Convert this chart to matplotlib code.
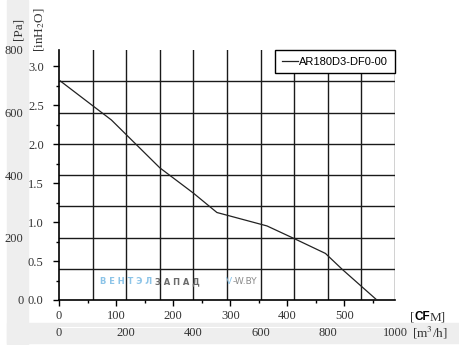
import matplotlib
matplotlib.use("Agg")
import matplotlib.pyplot as plt
from matplotlib.patches import Rectangle
from matplotlib.ticker import MultipleLocator

# fan curve: airflow in m3/h, static pressure in Pa
flow_m3h = [0, 156, 300, 400, 470, 619, 703, 793, 843, 946]
press_pa = [704, 576, 423, 342, 280, 237, 195, 149, 98, 0]
model = "AR180D3-DF0-00"

cfm_ticks = [0, 100, 200, 300, 400, 500]
m3h_ticks = [0, 200, 400, 600, 800, 1000]
pa_ticks = [0, 200, 400, 600, 800]
inh2o_ticks = [0.0, 0.5, 1.0, 1.5, 2.0, 2.5, 3.0]

M3H_PER_CFM = 1.699
PA_PER_INH2O = 249.09

plt.rcParams['mathtext.fontset'] = 'stix'
serif = 'Liberation Serif'
txt_col = '#333333'
fs = 9

W, H = 459, 345
fig = plt.figure(figsize=(W / 100, H / 100), dpi=100)

# gray bands behind the outer labels
fig.patches.append(Rectangle((7 / W, 0), 21 / W, 1, transform=fig.transFigure,
                             color='#eeeeee', zorder=-10))
fig.patches.append(Rectangle((7 / W, 2 / H), 1, 20 / H, transform=fig.transFigure,
                             color='#eeeeee', zorder=-10))

ax = fig.add_axes([59 / W, 45 / H, 336 / W, 250 / H])
ax.set_xlim(0, 1000)
ax.set_ylim(0, 800)
ax.set_facecolor('white')

for v in range(100, 1001, 100):
    ax.axvline(v, color='#1a1a1a', lw=1.0, zorder=1)
for h in range(100, 800, 100):
    ax.axhline(h, color='#1a1a1a', lw=1.0, zorder=1)

ax.plot(flow_m3h, press_pa, color='#222222', lw=0.9, label=model, zorder=3)

ax.spines['top'].set_visible(False)
ax.spines['right'].set_visible(False)
ax.spines['left'].set_linewidth(1.2)
ax.spines['bottom'].set_linewidth(1.2)
ax.set_xticks([])
ax.set_yticks([])

leg = ax.legend(loc='upper right', bbox_to_anchor=(1, 1), borderaxespad=0,
                fancybox=False, framealpha=1, edgecolor='black',
                prop={'family': 'Liberation Sans', 'size': 8},
                handlelength=1.5, handletextpad=0.1, borderpad=0.6)
leg.get_frame().set_linewidth(1.0)
leg.set_zorder(5)

# inH2O axis on the spine
ay = ax.secondary_yaxis('left', functions=(lambda p: p / PA_PER_INH2O,
                                           lambda i: i * PA_PER_INH2O))
ay.set_yticks(inh2o_ticks)
ay.yaxis.set_minor_locator(MultipleLocator(0.25))
ay.set_yticklabels([f"{t:.1f}" for t in inh2o_ticks], family=serif,
                   fontsize=fs, color=txt_col)
ay.tick_params(which='major', length=4, width=1, pad=7)
ay.tick_params(which='minor', length=2, width=1)
ay.spines['left'].set_visible(False)

# Pa labels further out
ap = ax.secondary_yaxis(-0.106)
ap.set_yticks(pa_ticks)
ap.set_yticklabels([str(t) for t in pa_ticks], family=serif,
                   fontsize=fs, color=txt_col)
ap.tick_params(length=0, pad=0)
ap.spines['left'].set_visible(False)

# CFM axis on the spine
ac = ax.secondary_xaxis('bottom', functions=(lambda m: m / M3H_PER_CFM,
                                             lambda c: c * M3H_PER_CFM))
ac.set_xticks(cfm_ticks)
ac.xaxis.set_minor_locator(MultipleLocator(50))
ac.set_xticklabels([str(t) for t in cfm_ticks], family=serif,
                   fontsize=fs, color=txt_col)
ac.tick_params(which='major', length=4.5, width=1, pad=3)
ac.tick_params(which='minor', length=2.5, width=1)
ac.spines['bottom'].set_visible(False)

# m3/h labels further down
am = ax.secondary_xaxis(-0.11)
am.set_xticks(m3h_ticks)
am.set_xticklabels([str(t) for t in m3h_ticks], family=serif,
                   fontsize=fs, color=txt_col)
am.tick_params(length=0, pad=0)
am.spines['bottom'].set_visible(False)

# unit labels
fig.text(18 / W, 1 - 29 / H, "[Pa]", rotation=90, ha='center', va='center',
         family=serif, fontsize=9.5, color=txt_col)
fig.text(40 / W, 1 - 30 / H, "[inH$_2$O]", rotation=90, ha='center', va='center',
         family=serif, fontsize=9.5, color=txt_col)

t1 = fig.text(410 / W, 1 - 320 / H, "[", family=serif, fontsize=9.5,
              color=txt_col, va='baseline')
t2 = ax.annotate("CF", xy=(1, 0), xycoords=t1, va='bottom',
                 family='Liberation Sans', weight='bold', fontsize=8.5,
                 color='black', annotation_clip=False)
ax.annotate("M]", xy=(1, 0), xycoords=t2, va='bottom', family=serif,
            fontsize=9.5, color=txt_col, annotation_clip=False)
fig.text(412 / W, 1 - 333 / H, "[m$^3$/h]", family=serif, fontsize=9.5,
         color=txt_col, va='center')

# watermark
wm_y = 0.072
tw = ax.text(0.122, wm_y, "В Е Н Т Э Л ", transform=ax.transAxes, va='center',
             family='DejaVu Sans', weight='bold', fontsize=6, color='#8cc4e8',
             zorder=2)
ax.annotate("З А П А Д", xy=(1, 0.5), xycoords=tw, va='center',
            family='DejaVu Sans', weight='bold', fontsize=6, color='#6a6a6a',
            zorder=2)
tv = ax.text(0.497, wm_y, "V", transform=ax.transAxes, va='center',
             family='DejaVu Sans', fontsize=6.5, color='#8cc4e8', zorder=2)
ax.annotate("-W.BY", xy=(1, 0.5), xycoords=tv, va='center',
            family='DejaVu Sans', fontsize=6.5, color='#8a8a8a', zorder=2)

fig.savefig("out.png", dpi=100)
